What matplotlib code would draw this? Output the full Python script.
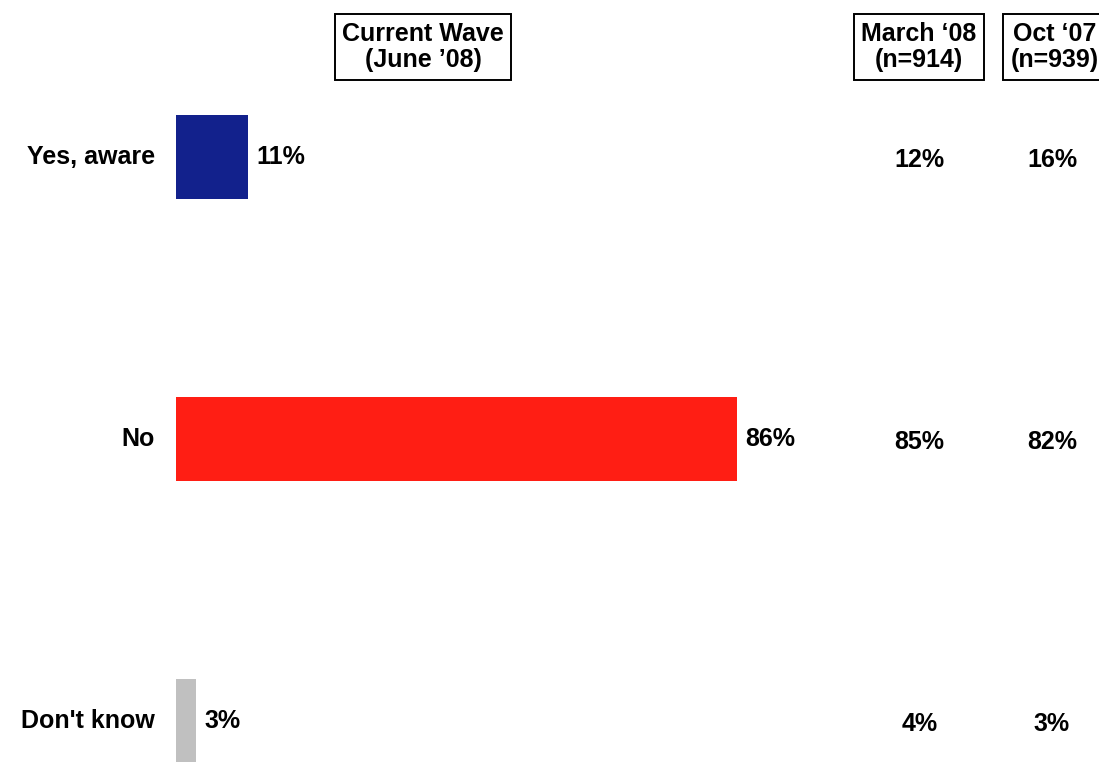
import matplotlib.pyplot as plt

plt.rcParams['font.family'] = ['Liberation Sans', 'DejaVu Sans']
plt.rcParams['font.weight'] = 'bold'

categories = ["Yes, aware", "No", "Don't know"]
current = [11, 86, 3]
march_08 = [12, 85, 4]
oct_07 = [16, 82, 3]
colors = ['#12218C', '#FF1E14', '#C0C0C0']

W, H = 1099, 762
fig = plt.figure(figsize=(W / 100, H / 100), dpi=100)

# axes starts at the bars' left edge, 100% = ~652 px
ax = fig.add_axes([176 / W, 0, 652.3 / W, 1])
ypos = [0, 1, 2]
ax.barh(ypos, current, height=0.3, color=colors)
ax.set_xlim(0, 100)
ax.set_ylim(2.145, -0.557)
ax.axis('off')

fs = 18

for y, v in zip(ypos, current):
    ax.text(v + 1.3, y, f"{v}%", va='center', ha='left', fontsize=fs)

# category labels on the left
for y, c in zip(ypos, categories):
    ax.text(-3.2, y, c, va='center', ha='right', fontsize=fs)

# earlier waves as plain columns
for y, a, b in zip(ypos, march_08, oct_07):
    ax.text(114.0, y + 0.01, f"{a}%", va='center', ha='center', fontsize=fs)
    ax.text(134.3, y + 0.01, f"{b}%", va='center', ha='center', fontsize=fs)

box = dict(boxstyle='square,pad=0.3', fc='white', ec='black', lw=1.4)
for xc, label in [(423, "Current Wave\n(June \u201908)"),
                  (919, "March \u201808\n(n=914)"),
                  (1055, "Oct \u201807\n(n=939)")]:
    fig.text(xc / W, 1 - 47 / H, label, ha='center', va='center',
             fontsize=fs, linespacing=1.12, bbox=box)

fig.savefig("out.png", dpi=100)
